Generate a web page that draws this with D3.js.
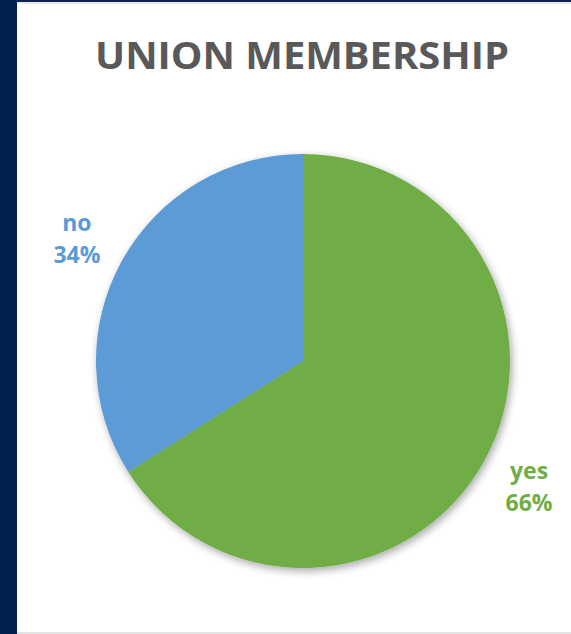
<!DOCTYPE html>
<html>
<head>
<meta charset="utf-8">
<script src="https://cdn.jsdelivr.net/npm/d3@7"></script>
<style>
  html, body { margin: 0; padding: 0; background: #ffffff; }
  svg { display: block; }
</style>
</head>
<body>
<svg id="chart" width="571" height="634"></svg>
<script>
// Union membership survey results
const categories = ["yes", "no"];
const shares = [66, 34];
const colors = ["#70AD47", "#5B9BD5"];
const title = "UNION MEMBERSHIP";

const W = 571, H = 634;
const svg = d3.select("#chart");

// Frame: navy side band and thin edges
svg.append("rect").attr("x", 0).attr("y", 0).attr("width", W).attr("height", H).attr("fill", "#ffffff");
svg.append("rect").attr("x", 0).attr("y", 0).attr("width", W).attr("height", 2).attr("fill", "#0b2450");
svg.append("rect").attr("x", 0).attr("y", 2).attr("width", W).attr("height", 2).attr("fill", "#e6e8ec");
svg.append("rect").attr("x", 0).attr("y", H - 2).attr("width", W).attr("height", 2).attr("fill", "#e3e3e3");
svg.append("rect").attr("x", 0).attr("y", 0).attr("width", 17).attr("height", H).attr("fill", "#03214d");

// Title
svg.append("text")
  .attr("x", 302).attr("y", 69)
  .attr("text-anchor", "middle")
  .attr("font-family", "'Open Sans', sans-serif")
  .attr("font-weight", 700)
  .attr("font-size", 38)
  .attr("fill", "#595959")
  .attr("textLength", 414)
  .attr("lengthAdjust", "spacingAndGlyphs")
  .text(title);

// Soft shadow under the pie
const defs = svg.append("defs");
const f = defs.append("filter").attr("id", "shadow")
  .attr("x", "-20%").attr("y", "-20%").attr("width", "140%").attr("height", "140%");
f.append("feGaussianBlur").attr("in", "SourceAlpha").attr("stdDeviation", 4).attr("result", "b");
f.append("feOffset").attr("in", "b").attr("dx", 2).attr("dy", 3).attr("result", "o");
f.append("feComponentTransfer").attr("in", "o").attr("result", "s")
  .append("feFuncA").attr("type", "linear").attr("slope", 0.35);
const m = f.append("feMerge");
m.append("feMergeNode").attr("in", "s");
m.append("feMergeNode").attr("in", "SourceGraphic");

const cx = 303, cy = 361, R = 207;
const data = categories.map((c, i) => ({ cat: c, value: shares[i], color: colors[i] }));
const pie = d3.pie().sort(null).value(d => d.value);
const arc = d3.arc().innerRadius(0).outerRadius(R);
const labelArc = d3.arc().innerRadius(258).outerRadius(258);

const g = svg.append("g").attr("transform", `translate(${cx},${cy})`);
const arcs = pie(data);

g.append("g").attr("filter", "url(#shadow)")
  .selectAll("path").data(arcs).join("path")
  .attr("d", arc)
  .attr("fill", d => d.data.color);

const lab = g.selectAll("text.lbl").data(arcs).join("text")
  .attr("class", "lbl")
  .attr("transform", d => `translate(${labelArc.centroid(d)})`)
  .attr("text-anchor", "middle")
  .attr("font-family", "'Open Sans', sans-serif")
  .attr("font-weight", 700)
  .attr("font-size", 23)
  .attr("fill", d => d.data.color);
lab.append("tspan").attr("x", 0).attr("y", -6).text(d => d.data.cat);
lab.append("tspan").attr("x", 0).attr("y", 26).text(d => d.data.value + "%");
</script>
</body>
</html>
